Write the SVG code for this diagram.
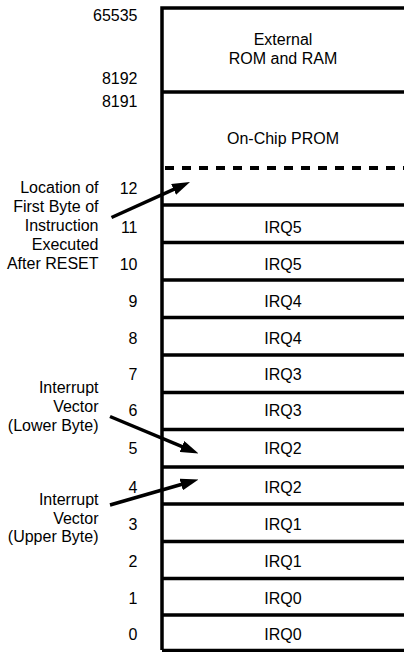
<svg xmlns="http://www.w3.org/2000/svg" width="404" height="652" viewBox="0 0 404 652">
<style>
text{font-family:"Liberation Sans",Arial,sans-serif;font-size:16px;fill:#000}
.num{text-anchor:end}
.lbl{text-anchor:end}
.mid{text-anchor:middle}
.rule{stroke:#000;stroke-width:3.5;fill:none}
.dash{stroke:#000;stroke-width:4;stroke-dasharray:9 8;fill:none}
.arr{stroke:#000;stroke-width:3.5;fill:none}
</style>
<defs>
<marker id="ah" viewBox="0 0 18 12" refX="8" refY="6" markerWidth="18" markerHeight="12" markerUnits="userSpaceOnUse" orient="auto">
<path d="M0,0 L18,6 L0,12 Z" fill="#000"/>
</marker>
</defs>
<rect width="404" height="652" fill="#fff"/>
<g id="memory-map">
<path class="rule" d="M162,650 V8 H404"/>
<path class="rule" d="M162,92 H404 M162,205 H404 M162,242.5 H404 M162,280 H404 M162,317.5 H404 M162,355 H404 M162,392.5 H404 M162,429.5 H404 M162,467 H404 M162,504 H404 M162,541.5 H404 M162,578.5 H404 M162,615 H404 M162,650.5 H404"/>
<path class="dash" d="M165,168 H404"/>
</g>
<g id="external">
<text class="mid" x="283" y="45">External</text>
<text class="mid" x="283" y="63.5">ROM and RAM</text>
</g>
<g id="prom"><text class="mid" x="283" y="143.5">On-Chip PROM</text></g>
<g id="addresses">
<text class="num" x="137.5" y="20.5">65535</text>
<text class="num" x="137.5" y="83.5">8192</text>
<text class="num" x="137.5" y="107">8191</text>
<text class="num" x="137.5" y="194">12</text>
<text class="num" x="137.5" y="233">11</text>
<text class="num" x="137.5" y="270">10</text>
<text class="num" x="137.5" y="307">9</text>
<text class="num" x="137.5" y="343.5">8</text>
<text class="num" x="137.5" y="380">7</text>
<text class="num" x="137.5" y="416">6</text>
<text class="num" x="137.5" y="453.5">5</text>
<text class="num" x="137.5" y="493">4</text>
<text class="num" x="137.5" y="530">3</text>
<text class="num" x="137.5" y="567">2</text>
<text class="num" x="137.5" y="604">1</text>
<text class="num" x="137.5" y="640">0</text>
</g>
<g id="irq-rows">
<text class="mid" x="283" y="233">IRQ5</text>
<text class="mid" x="283" y="270">IRQ5</text>
<text class="mid" x="283" y="307">IRQ4</text>
<text class="mid" x="283" y="343.5">IRQ4</text>
<text class="mid" x="283" y="380">IRQ3</text>
<text class="mid" x="283" y="416">IRQ3</text>
<text class="mid" x="283" y="453.5">IRQ2</text>
<text class="mid" x="283" y="493">IRQ2</text>
<text class="mid" x="283" y="530">IRQ1</text>
<text class="mid" x="283" y="567">IRQ1</text>
<text class="mid" x="283" y="604">IRQ0</text>
<text class="mid" x="283" y="640">IRQ0</text>
</g>
<g id="reset-label">
<text class="lbl" x="98.5" y="192.5">Location of</text>
<text class="lbl" x="98.5" y="211.5">First Byte of</text>
<text class="lbl" x="98.5" y="230.5">Instruction</text>
<text class="lbl" x="98.5" y="249.5">Executed</text>
<text class="lbl" x="98.5" y="268.5">After RESET</text>
</g>
<g id="lower-label">
<text class="lbl" x="98.5" y="393">Interrupt</text>
<text class="lbl" x="98.5" y="412">Vector</text>
<text class="lbl" x="98.5" y="431">(Lower Byte)</text>
</g>
<g id="upper-label">
<text class="lbl" x="98.5" y="505">Interrupt</text>
<text class="lbl" x="98.5" y="523.5">Vector</text>
<text class="lbl" x="98.5" y="542">(Upper Byte)</text>
</g>
<g id="connectors">
<line class="arr" x1="111.5" y1="217.5" x2="180.9" y2="186.1" marker-end="url(#ah)"/>
<line class="arr" x1="110" y1="416.5" x2="189.3" y2="449.6" marker-end="url(#ah)"/>
<line class="arr" x1="110" y1="505" x2="188.9" y2="482.3" marker-end="url(#ah)"/>
</g>
</svg>
